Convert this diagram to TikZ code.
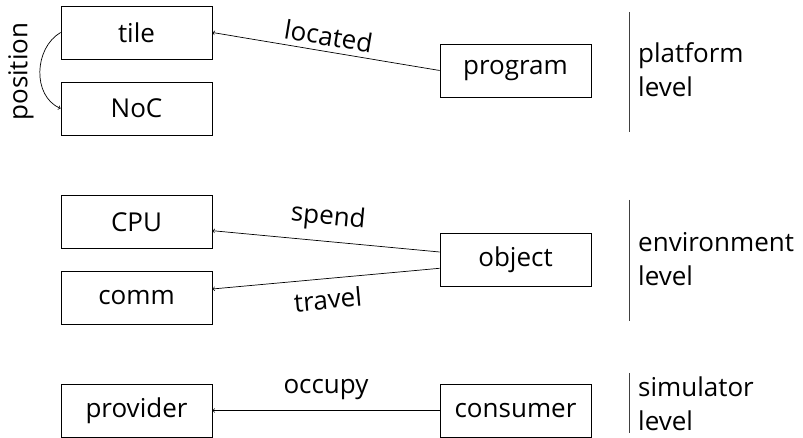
\documentclass[tikz,border=0pt]{standalone}
\usepackage{fontspec}
\setmainfont{Open Sans}
\begin{document}
\begin{tikzpicture}[x=1pt,y=1pt,
  box/.style={draw, line width=0.8pt, minimum width=151pt, minimum height=53pt, inner sep=0pt, font=\fontsize{26}{31}\selectfont},
  conn/.style={->, line width=0.7pt},
  lbl/.style={font=\fontsize{26}{31}\selectfont},
  lvl/.style={font=\fontsize{26}{34}\selectfont, align=left, anchor=west, inner sep=0pt},
  sep/.style={line width=0.8pt, black!75}]
\useasboundingbox (0,0) rectangle (803,438);
% platform level
\node[box] (tile) at (136.5,405.5) {tile};
\node[box] (noc) at (136.5,329.5) {NoC};
\node[box] (program) at (515.5,367.5) {program};
\draw[conn] (program.west) -- node[lbl, midway, sloped, above=2pt] {located} (tile.east);
\draw[conn] (tile.west) .. controls (34,390) and (32,342) .. node[lbl, pos=0.5, anchor=south, rotate=90, inner sep=6pt] {position} (noc.west);
\coordinate (s1a) at (629,426);
\coordinate (s1b) at (629,306);
\draw[sep] (s1a) -- (s1b);
\node[lvl] (plat) at (638,368) {platform\\level};
% environment level
\node[box] (cpu) at (136.5,216) {CPU};
\node[box] (comm) at (136.5,140) {comm};
\node[box] (object) at (515.5,178) {object};
\draw[conn] ([yshift=8pt]object.west) -- node[lbl, midway, sloped, above=7pt] {spend} ([yshift=-8.7pt]cpu.east);
\draw[conn] ([yshift=-8.3pt]object.west) -- node[lbl, midway, sloped, below=7pt] {travel} ([yshift=9pt]comm.east);
\coordinate (s2a) at (629,238);
\coordinate (s2b) at (629,117);
\draw[sep] (s2a) -- (s2b);
\node[lvl] (env) at (638,179) {environment\\level};
% simulator level
\node[box] (provider) at (136.5,27.5) {provider};
\node[box] (consumer) at (515.5,27.5) {consumer};
\draw[conn] (consumer.west) -- node[lbl, midway, above=7pt] {occupy} (provider.east);
\coordinate (s3a) at (629,65);
\coordinate (s3b) at (629,5);
\draw[sep] (s3a) -- (s3b);
\node[lvl] (sim) at (638,34) {simulator\\level};
\end{tikzpicture}
\end{document}
